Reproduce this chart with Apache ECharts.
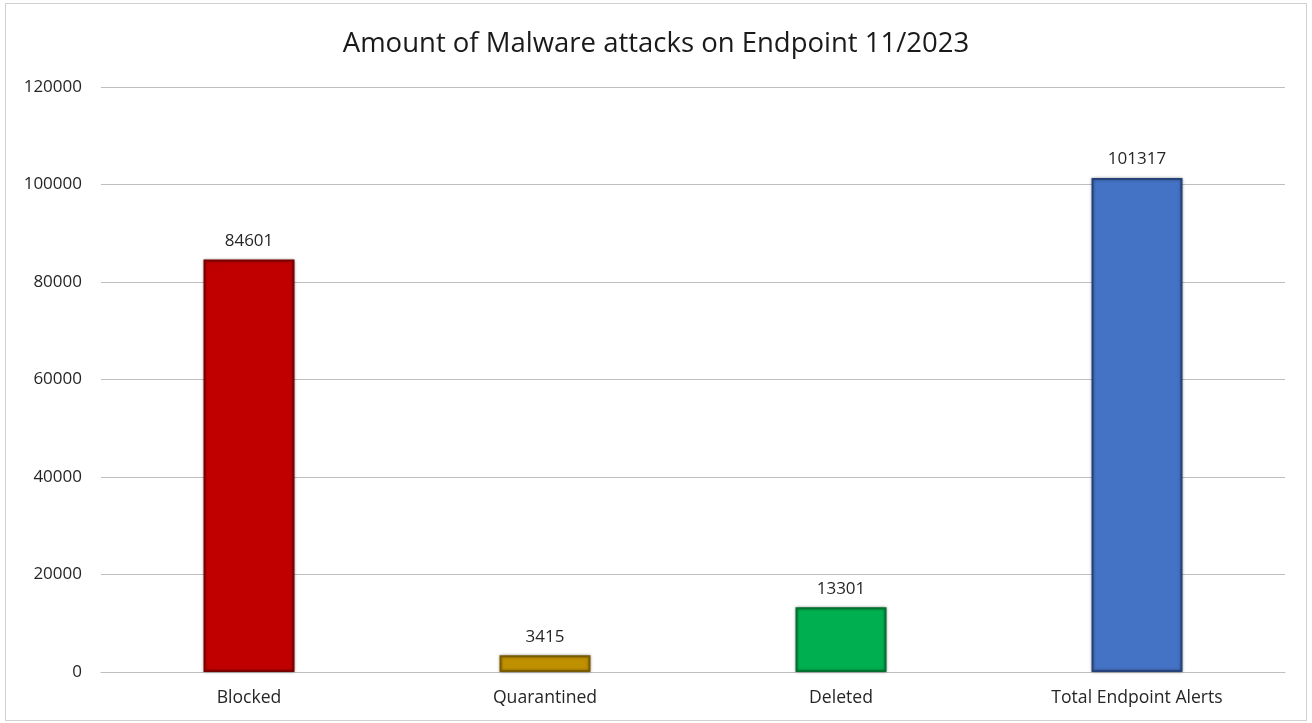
<!DOCTYPE html>
<html><head><meta charset="utf-8">
<script src="https://cdn.jsdelivr.net/npm/echarts@6/dist/echarts.min.js"></script>
<style>html,body{margin:0;padding:0;background:#fff}#c{width:1312px;height:723px}
#frame{position:absolute;left:5px;top:3px;width:1302px;height:718px;border:1px solid #d0d0d0;box-sizing:border-box;pointer-events:none}</style>
</head><body><div id="c"></div><div id="frame"></div>
<script>
const categories = ["Blocked", "Quarantined", "Deleted", "Total Endpoint Alerts"];
const values = [84601, 3415, 13301, 101317];
const fillColors = ["#C00000", "#BF9000", "#00B050", "#4472C4"];
const borderColors = ["#7A0000", "#7A5C00", "#00702F", "#25437A"];
const titleText = "Amount of Malware attacks on Endpoint 11/2023";

const chart = echarts.init(document.getElementById('c'));
chart.setOption({
  animation: false,
  title: { text: titleText, left: 'center', top: 25,
    textStyle: { fontFamily: 'Open Sans', fontSize: 27.5, fontWeight: 'normal', color: '#1a1a1a' } },
  grid: { left: 101, right: 27, top: 87, bottom: 51, containLabel: false },
  xAxis: { type: 'category', data: categories,
    axisLine: { show: true, lineStyle: { color: '#bfbfbf', width: 1 } },
    axisTick: { show: false },
    axisLabel: { color: '#262626', fontFamily: 'Open Sans', fontSize: 17.6, margin: 17 } },
  yAxis: { type: 'value', min: 0, max: 120000, interval: 20000,
    axisLine: { show: false }, axisTick: { show: false },
    axisLabel: { color: '#262626', fontFamily: 'Open Sans', fontSize: 17, margin: 19,
      formatter: v => String(v) },
    splitLine: { lineStyle: { color: '#bfbfbf', width: 1 } } },
  series: [{
    type: 'bar', barWidth: 91,
    data: values.map((v, i) => ({ value: v,
      itemStyle: { color: fillColors[i], borderColor: borderColors[i], borderWidth: 2,
        shadowColor: 'rgba(0,0,0,0.35)', shadowBlur: 3 } })),
    label: { show: true, position: 'top', distance: 10, color: '#262626', fontFamily: 'Open Sans', fontSize: 17 }
  }]
});
</script></body></html>
